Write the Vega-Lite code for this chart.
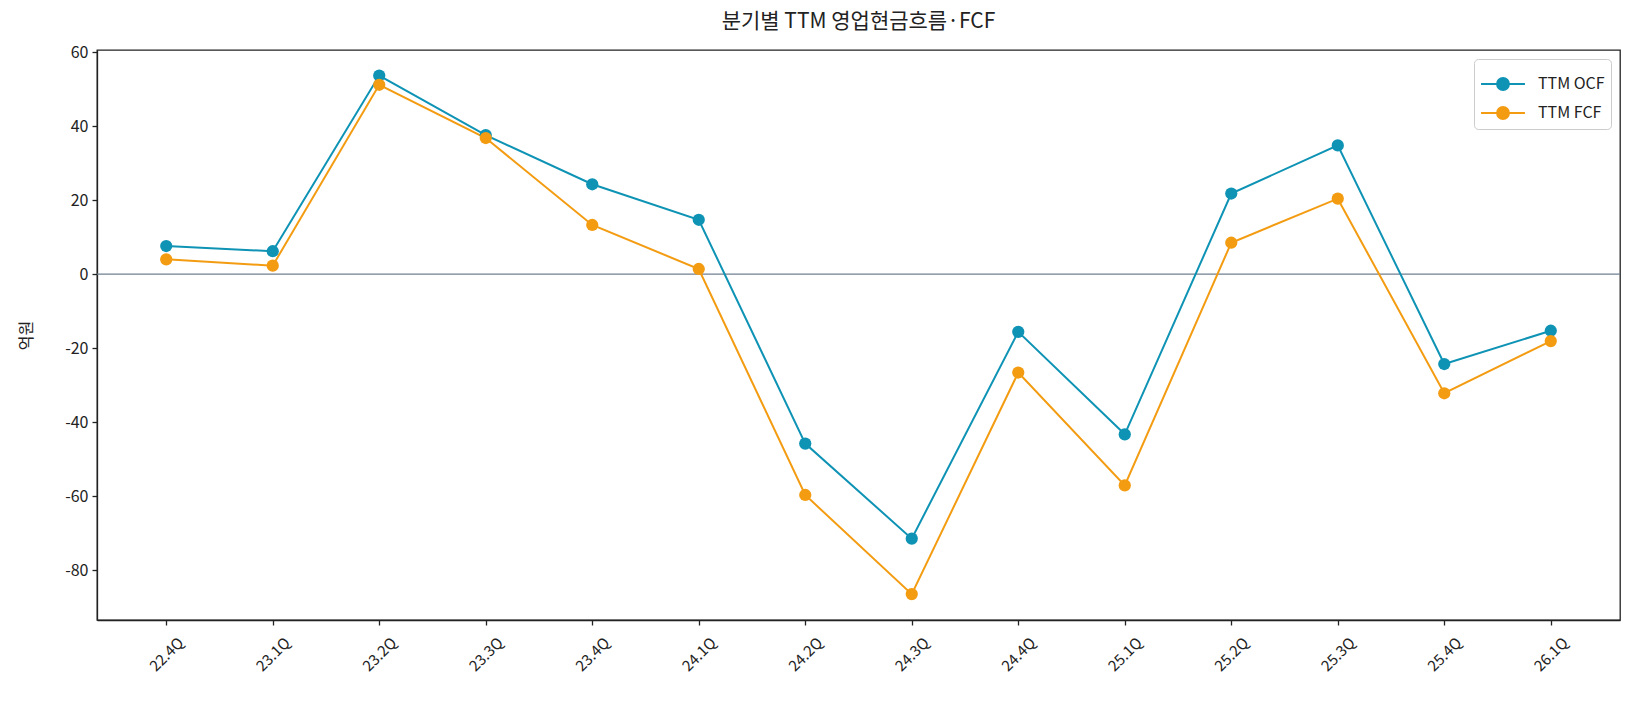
{
  "$schema": "https://vega.github.io/schema/vega-lite/v6.json",
  "autosize": {"type": "none"},
  "width": 1523,
  "height": 570,
  "padding": {"left": 97, "top": 50, "right": 15, "bottom": 85},
  "background": "white",
  "config": {
    "font": "Noto Sans CJK KR",
    "view": {"stroke": "#222222", "strokeWidth": 1.3},
    "axis": {"labelFont": "Noto Sans CJK KR", "titleFont": "Noto Sans CJK KR", "labelColor": "#222222", "titleColor": "#222222", "domainColor": "#222222", "tickColor": "#222222", "labelFontSize": 16, "titleFontSize": 16, "titleFontWeight": "normal", "grid": false, "tickSize": 5, "domainWidth": 1.3, "tickWidth": 1.3}
  },
  "title": {"text": "분기별 TTM 영업현금흐름·FCF", "fontSize": 21, "fontWeight": "normal", "color": "#222222", "offset": 12, "anchor": "middle", "font": "Noto Sans CJK KR"},
  "data": {"values": [
    {"q": "22.4Q", "s": "TTM OCF", "v": 7.6},
    {"q": "23.1Q", "s": "TTM OCF", "v": 6.2},
    {"q": "23.2Q", "s": "TTM OCF", "v": 53.7},
    {"q": "23.3Q", "s": "TTM OCF", "v": 37.6},
    {"q": "23.4Q", "s": "TTM OCF", "v": 24.3},
    {"q": "24.1Q", "s": "TTM OCF", "v": 14.7},
    {"q": "24.2Q", "s": "TTM OCF", "v": -45.8},
    {"q": "24.3Q", "s": "TTM OCF", "v": -71.5},
    {"q": "24.4Q", "s": "TTM OCF", "v": -15.6},
    {"q": "25.1Q", "s": "TTM OCF", "v": -43.3},
    {"q": "25.2Q", "s": "TTM OCF", "v": 21.8},
    {"q": "25.3Q", "s": "TTM OCF", "v": 34.8},
    {"q": "25.4Q", "s": "TTM OCF", "v": -24.3},
    {"q": "26.1Q", "s": "TTM OCF", "v": -15.3},
    {"q": "22.4Q", "s": "TTM FCF", "v": 4.0},
    {"q": "23.1Q", "s": "TTM FCF", "v": 2.3},
    {"q": "23.2Q", "s": "TTM FCF", "v": 51.2},
    {"q": "23.3Q", "s": "TTM FCF", "v": 36.8},
    {"q": "23.4Q", "s": "TTM FCF", "v": 13.3},
    {"q": "24.1Q", "s": "TTM FCF", "v": 1.4},
    {"q": "24.2Q", "s": "TTM FCF", "v": -59.7},
    {"q": "24.3Q", "s": "TTM FCF", "v": -86.5},
    {"q": "24.4Q", "s": "TTM FCF", "v": -26.6},
    {"q": "25.1Q", "s": "TTM FCF", "v": -57.1},
    {"q": "25.2Q", "s": "TTM FCF", "v": 8.5},
    {"q": "25.3Q", "s": "TTM FCF", "v": 20.4},
    {"q": "25.4Q", "s": "TTM FCF", "v": -32.2},
    {"q": "26.1Q", "s": "TTM FCF", "v": -18.1}
  ]},
  "layer": [
    {
      "data": {"values": [{"z": 0}]},
      "mark": {"type": "rule", "color": "#6f7f90", "strokeWidth": 1.2},
      "encoding": {"y": {"field": "z", "type": "quantitative", "scale": {"domain": [-93.5, 60.6], "nice": false, "zero": false}}}
    },
    {
      "mark": {"type": "line", "strokeWidth": 2, "point": {"filled": true, "size": 150, "opacity": 1}},
      "encoding": {
        "x": {"field": "q", "type": "ordinal", "sort": null, "scale": {"type": "point", "padding": 0.65},
              "axis": {"title": null, "labelAngle": -45, "labelAlign": "center", "labelBaseline": "middle", "labelPadding": 29, "labelFontSize": 15}},
        "y": {"field": "v", "type": "quantitative", "scale": {"domain": [-93.5, 60.6], "nice": false, "zero": false},
              "axis": {"title": "억원", "values": [-80, -60, -40, -20, 0, 20, 40, 60], "labelExpr": "'' + datum.value", "titlePadding": 30, "labelPadding": 4}},
        "color": {"field": "s", "type": "nominal", "sort": ["TTM OCF", "TTM FCF"],
                  "scale": {"domain": ["TTM OCF", "TTM FCF"], "range": ["#0e93b5", "#f39c12"]},
                  "legend": {"title": null, "orient": "top-right", "offset": 9,
                             "symbolType": "M-1.22,0H1.22M0.33,0A0.33,0.33 0 1,1 -0.33,0A0.33,0.33 0 1,1 0.33,0Z",
                             "symbolSize": 1296, "symbolStrokeWidth": 2, "symbolOpacity": 1, "symbolOffset": 4,
                             "labelFontSize": 16, "labelColor": "#222222", "labelFont": "Noto Sans CJK KR",
                             "rowPadding": 0, "padding": 6, "fillColor": "white", "strokeColor": "#cccccc", "cornerRadius": 4, "labelOffset": 16}}
      }
    }
  ]
}
